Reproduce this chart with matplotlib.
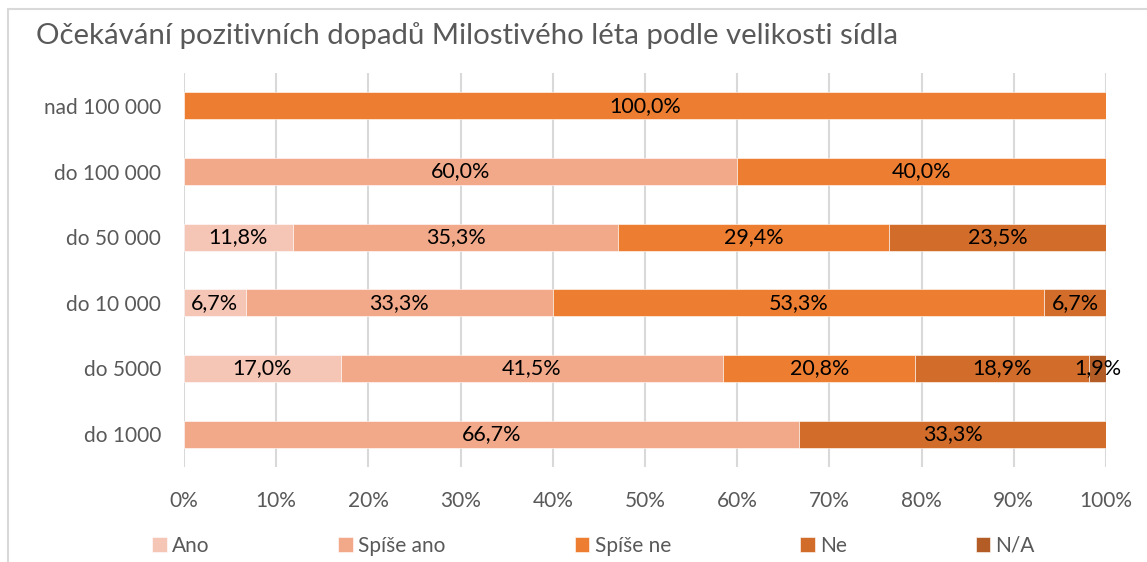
import matplotlib.pyplot as plt
from matplotlib.patches import Rectangle

# velikost sídla (shora dolů jako v grafu)
sidla = ["nad 100 000", "do 100 000", "do 50 000", "do 10 000", "do 5000", "do 1000"]
odpovedi = ["Ano", "Spíše ano", "Spíše ne", "Ne", "N/A"]

ano = [0, 0, 11.8, 6.7, 17.0, 0]
spise_ano = [0, 60.0, 35.3, 33.3, 41.5, 66.7]
spise_ne = [100.0, 40.0, 29.4, 53.3, 20.8, 0]
ne = [0, 0, 23.5, 6.7, 18.9, 33.3]
na = [0, 0, 0, 0, 1.9, 0]

hodnoty = [ano, spise_ano, spise_ne, ne, na]
barvy = ["#F5C5B5", "#F1A98A", "#ED7D31", "#D26C2A", "#B35C26"]

plt.rcParams["font.family"] = ["Lato", "DejaVu Sans"]
SEDA = "#595959"

fig = plt.figure(figsize=(11.47, 5.62), dpi=100)
ax = fig.add_axes([184 / 1147, 1 - 467 / 562, (1106 - 184) / 1147, (467 - 73) / 562])

# rámeček kolem grafu (jako v Excelu)
fig.patches.append(Rectangle((8 / 1147, -0.1), 1.2, 1 - 9 / 562 + 0.1,
                             transform=fig.transFigure, fill=False,
                             edgecolor="#D9D9D9", linewidth=1.5))

y = list(range(len(sidla)))
zleva = [0] * len(sidla)
for nazev, data, barva in zip(odpovedi, hodnoty, barvy):
    bary = ax.barh(y, data, left=zleva, height=0.41, color=barva,
                   edgecolor="white", linewidth=0.4, label=nazev)
    for b, v in zip(bary, data):
        if v > 0:
            ax.text(b.get_x() + b.get_width() / 2, b.get_y() + b.get_height() / 2,
                    f"{v:.1f}%".replace(".", ","), ha="center", va="center",
                    fontsize=15.5, color="black")
    zleva = [z + d for z, d in zip(zleva, data)]

ax.set_xlim(0, 100)
ax.set_ylim(len(sidla) - 0.5, -0.5)
ax.set_yticks(y)
ax.set_yticklabels(sidla)
ax.set_xticks(range(0, 101, 10))
ax.set_xticklabels([f"{t}%" for t in range(0, 101, 10)])
ax.tick_params(colors=SEDA, labelsize=15, length=0)
ax.tick_params(axis="y", pad=16.5)
ax.tick_params(axis="x", pad=17)
ax.grid(axis="x", color="#D9D9D9", linewidth=1.5)
ax.set_axisbelow(True)
for s in ax.spines.values():
    s.set_visible(False)

fig.text(36 / 1147, 1 - 36 / 562, "Očekávání pozitivních dopadů Milostivého léta podle velikosti sídla",
         fontsize=21.2, color=SEDA, va="center", ha="left")

fig.legend(loc="center left", bbox_to_anchor=(152 / 1147, 1 - 546 / 562), ncol=5,
           frameon=False, fontsize=15, labelcolor=SEDA, handlelength=0.7,
           handleheight=0.7, handletextpad=0.25, columnspacing=6.2,
           borderaxespad=0, borderpad=0)

fig.savefig("out.png", dpi=100)
